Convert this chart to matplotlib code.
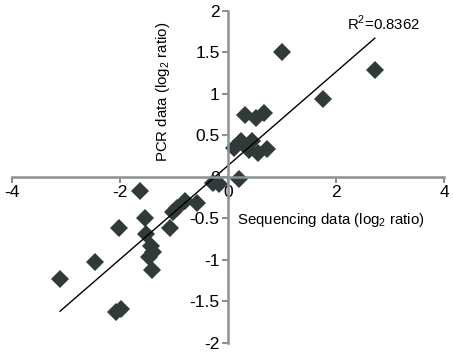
import numpy as np
import matplotlib
matplotlib.use("Agg")
import matplotlib.pyplot as plt

plt.rcParams['font.family'] = ['Liberation Sans', 'DejaVu Sans']
plt.rcParams['mathtext.fontset'] = 'custom'
plt.rcParams['mathtext.rm'] = 'Liberation Sans'

# sequencing (x) vs PCR (y), log2 ratios
seq_x = [1.00, 2.72, 1.76, 0.32, 0.51, 0.66, 0.12, 0.25, 0.44, 0.39, 0.56, 0.72,
         0.20, -0.28, -0.16, -1.63, -1.54, -2.02, -1.52, -1.43, -1.38, -1.47,
         -1.41, -2.46, -3.11, -2.08, -1.98, -0.57, -0.80, -0.95, -1.02, -1.07]
pcr_y = [1.50, 1.29, 0.94, 0.74, 0.71, 0.77, 0.35, 0.43, 0.43, 0.32, 0.29, 0.34,
         -0.02, -0.07, -0.08, -0.17, -0.50, -0.62, -0.69, -0.83, -0.91, -0.97,
         -1.12, -1.03, -1.23, -1.63, -1.59, -0.31, -0.29, -0.37, -0.42, -0.62]
r2_text = "R$^2$=0.8362"
x_ticks = [-4, -2, 0, 2, 4]
y_ticks = [-2, -1.5, -1, -0.5, 0, 0.5, 1, 1.5, 2]

x = np.array(seq_x)
y = np.array(pcr_y)

fig = plt.figure(figsize=(4.54, 3.52), dpi=100)
ax = fig.add_axes([0.0264, 0.026, 0.9515, 0.943])

ax.plot(x, y, 'D', color='#2f3a39', markersize=8.7, markeredgewidth=0)

# linear trend line over the data range
k, b = np.polyfit(x, y, 1)
xl = np.array([x.min(), x.max()])
ax.plot(xl, k * xl + b, color='black', linewidth=1.0)

ax.set_xlim(-4, 4)
ax.set_ylim(-2, 2)
ax.set_xticks(x_ticks)
ax.set_yticks(y_ticks)
ax.set_xticklabels([f"{t:g}" for t in x_ticks])
ax.set_yticklabels([f"{t:g}" for t in y_ticks])

for s in ['top', 'right']:
    ax.spines[s].set_visible(False)
for s in ['left', 'bottom']:
    ax.spines[s].set_position('zero')
    ax.spines[s].set_color('#8c9196')
    ax.spines[s].set_linewidth(1.8)
ax.tick_params(colors='#8c9196', labelcolor='black', labelsize=12.5,
               direction='out', length=4, width=1.5, pad=2)

ax.text(0.17, -0.52, "Sequencing data (log$_2$ ratio)", fontsize=10.8,
        ha='left', va='center')
ax.text(-1.2, 1.02, "PCR data (log$_2$ ratio)", rotation=90, fontsize=10.8,
        ha='center', va='center')
ax.text(2.2, 1.85, r2_text, fontsize=10.8, ha='left', va='center')

fig.savefig("out.png", dpi=100)
